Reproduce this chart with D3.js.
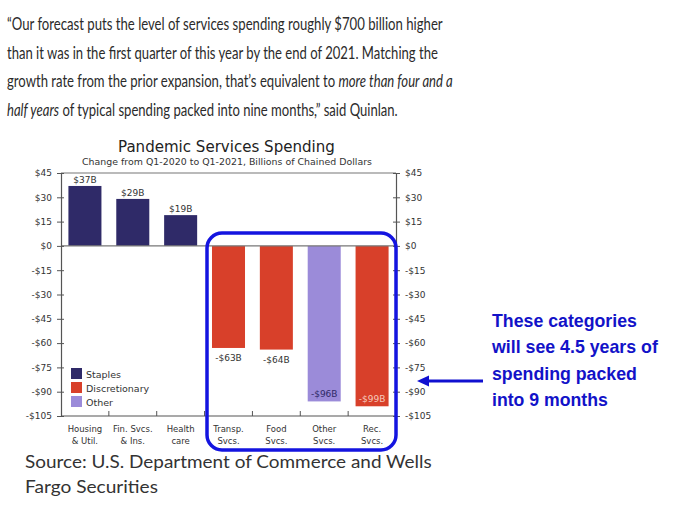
<!DOCTYPE html>
<html>
<head>
<meta charset="utf-8">
<script src="https://cdn.jsdelivr.net/npm/d3@7"></script>
<style>
  body { margin: 0; background: #fff; }
  svg { display: block; }
</style>
</head>
<body>
<svg id="chart" width="678" height="509"></svg>
<script>
// data
const categories = ["Housing & Util.", "Fin. Svcs. & Ins.", "Health care", "Transp. Svcs.", "Food Svcs.", "Other Svcs.", "Rec. Svcs."];
const catLines = [["Housing", "& Util."], ["Fin. Svcs.", "& Ins."], ["Health", "care"], ["Transp.", "Svcs."], ["Food", "Svcs."], ["Other", "Svcs."], ["Rec.", "Svcs."]];
const values = [37, 29, 19, -63, -64, -96, -99];
const groups = ["Staples", "Staples", "Staples", "Discretionary", "Discretionary", "Other", "Discretionary"];
const valueLabels = ["$37B", "$29B", "$19B", "-$63B", "-$64B", "-$96B", "-$99B"];
const legendItems = ["Staples", "Discretionary", "Other"];
const yTicks = [45, 30, 15, 0, -15, -30, -45, -60, -75, -90, -105];

const paragraph = [
    [{ t: "\u201cOur forecast puts the level of services spending roughly $700 billion higher" }],
    [{ t: "than it was in the first quarter of this year by the end of 2021. Matching the" }],
    [{ t: "growth rate from the prior expansion, that\u2019s equivalent to " }, { t: "more than four and a", i: true }],
    [{ t: "half years", i: true }, { t: " of typical spending packed into nine months,\u201d said Quinlan." }]
];
const sourceLines = ["Source: U.S. Department of Commerce and Wells", "Fargo Securities"];
const noteLines = ["These categories", "will see 4.5 years of", "spending packed", "into 9 months"];

const colors = { Staples: "#2f2a68", Discretionary: "#d8402a", Other: "#9b8bd9" };

const svg = d3.select("#chart");

// stretch/squeeze a text so it ends at the wanted width
const fit = (sel, x, y, w) => {
    const len = sel.node().getComputedTextLength();
    sel.attr("transform", `translate(${x},${y}) scale(${w / len},1)`);
};

// quoted paragraph at the top
const paraWidths = [436, 431, 446, 391];
paragraph.forEach((parts, i) => {
    const t = svg.append("text")
        .attr("font-family", "Lato, sans-serif")
        .attr("font-size", 17)
        .attr("fill", "#2b2b2b");
    parts.forEach(p => t.append("tspan").attr("font-style", p.i ? "italic" : "normal").text(p.t));
    fit(t, 7, 30 + i * 28.5, paraWidths[i]);
});

// chart area
const x = d3.scaleBand()
    .domain(categories)
    .range([61, 396])
    .paddingInner(0.31)
    .paddingOuter(0.155);

const y = d3.scaleLinear()
    .domain([-105, 45])
    .range([416, 173]);

const fmt = d => d < 0 ? "-$" + (-d) : "$" + d;

// title + subtitle
const title = svg.append("text")
    .attr("font-family", "DejaVu Sans, Verdana, sans-serif")
    .attr("font-size", 15)
    .attr("fill", "#222")
    .text("Pandemic Services Spending");
fit(title, 118, 152, 217);

const sub = svg.append("text")
    .attr("font-family", "DejaVu Sans, Verdana, sans-serif")
    .attr("font-size", 8.5)
    .attr("fill", "#333")
    .text("Change from Q1-2020 to Q1-2021, Billions of Chained Dollars");
fit(sub, 82, 165, 290);

// frame: top border + zero line
svg.append("line")
    .attr("x1", 61).attr("x2", 396)
    .attr("y1", y(45)).attr("y2", y(45))
    .attr("stroke", "#777").attr("stroke-width", 1.2);

// bars
svg.append("g").selectAll("rect")
    .data(values)
    .join("rect")
    .attr("x", (d, i) => x(categories[i]))
    .attr("width", x.bandwidth())
    .attr("y", d => y(Math.max(0, d)))
    .attr("height", d => Math.abs(y(d) - y(0)))
    .attr("fill", (d, i) => colors[groups[i]]);

svg.append("line")
    .attr("x1", 61).attr("x2", 396)
    .attr("y1", y(0)).attr("y2", y(0))
    .attr("stroke", "#777").attr("stroke-width", 1.2);

// value labels
svg.append("g").selectAll("text")
    .data(values)
    .join("text")
    .attr("font-family", "DejaVu Sans, Verdana, sans-serif")
    .attr("font-size", 9)
    .attr("text-anchor", "middle")
    .attr("x", (d, i) => x(categories[i]) + x.bandwidth() / 2)
    .attr("y", d => d > 0 ? y(d) - 3 : (d < -90 ? y(d) - 4 : y(d) + 13))
    .attr("fill", (d, i) => d < -90 ? (groups[i] === "Other" ? "#2f2a68" : "#f6c9bb") : "#333")
    .text((d, i) => valueLabels[i]);

// y axes (ticks cross the axis line)
const yAxisL = d3.axisLeft(y).tickValues(yTicks).tickFormat(fmt).tickSizeInner(4).tickSizeOuter(0);
const yAxisR = d3.axisRight(y).tickValues(yTicks).tickFormat(fmt).tickSizeInner(4).tickSizeOuter(0);

const styleAxis = (g, dir) => {
    g.select(".domain").attr("stroke", "#555").attr("stroke-width", 1.2);
    g.selectAll(".tick line").attr("stroke", "#555").attr("x2", dir * 4).attr("x1", -dir * 3);
    g.selectAll(".tick text")
        .attr("font-family", "DejaVu Sans, Verdana, sans-serif")
        .attr("font-size", 9)
        .attr("fill", "#333")
        .attr("x", dir * 9);
};

svg.append("g").attr("transform", "translate(61,0)").call(yAxisL).call(g => styleAxis(g, -1));
svg.append("g").attr("transform", "translate(396,0)").call(yAxisR).call(g => styleAxis(g, 1));

// bottom axis with ticks between categories
svg.append("line")
    .attr("x1", 61).attr("x2", 396)
    .attr("y1", y(-105)).attr("y2", y(-105))
    .attr("stroke", "#555").attr("stroke-width", 1.2);

svg.append("g").selectAll("line")
    .data(categories.slice(1))
    .join("line")
    .attr("x1", d => x(d) - x.step() * x.paddingInner() / 2)
    .attr("x2", d => x(d) - x.step() * x.paddingInner() / 2)
    .attr("y1", y(-105)).attr("y2", y(-105) - 5)
    .attr("stroke", "#555");

const catText = svg.append("g").selectAll("text")
    .data(categories)
    .join("text")
    .attr("font-family", "DejaVu Sans, Verdana, sans-serif")
    .attr("font-size", 8.5)
    .attr("fill", "#333")
    .attr("text-anchor", "middle")
    .attr("x", d => x(d) + x.bandwidth() / 2)
    .attr("y", 432);
catText.each(function (d, i) {
    const t = d3.select(this);
    catLines[i].forEach((ln, j) => {
        t.append("tspan")
            .attr("x", x(d) + x.bandwidth() / 2)
            .attr("dy", j === 0 ? 0 : 12)
            .text(ln);
    });
});

// legend
const legend = svg.append("g").attr("transform", "translate(71,368)");
legendItems.forEach((k, i) => {
    legend.append("rect")
        .attr("x", 0).attr("y", i * 14)
        .attr("width", 11).attr("height", 11)
        .attr("fill", colors[k]);
    legend.append("text")
        .attr("x", 15).attr("y", i * 14 + 9.5)
        .attr("font-family", "DejaVu Sans, Verdana, sans-serif")
        .attr("font-size", 9.5)
        .attr("fill", "#333")
        .text(k);
});

// blue highlight box
svg.append("rect")
    .attr("x", 207).attr("y", 233)
    .attr("width", 189).attr("height", 217)
    .attr("rx", 15).attr("ry", 15)
    .attr("fill", "none")
    .attr("stroke", "#1414e0")
    .attr("stroke-width", 3.5);

// source
const srcWidths = [407, 133];
sourceLines.forEach((s, i) => {
    const t = svg.append("text")
        .attr("font-family", "Lato, sans-serif")
        .attr("font-size", 18)
        .attr("fill", "#333")
        .text(s);
    fit(t, 25, 468 + i * 25, srcWidths[i]);
});

// annotation + arrow
const noteWidths = [145, 166, 145, 116];
noteLines.forEach((s, i) => {
    const t = svg.append("text")
        .attr("font-family", "Liberation Sans, Arial, sans-serif")
        .attr("font-weight", "bold")
        .attr("font-size", 19)
        .attr("fill", "#1212c8")
        .text(s);
    fit(t, 492, 327 + i * 26.3, noteWidths[i]);
});

svg.append("line")
    .attr("x1", 483).attr("x2", 426)
    .attr("y1", 381).attr("y2", 381)
    .attr("stroke", "#1010d0").attr("stroke-width", 3);
svg.append("path")
    .attr("d", "M417,381 L429,375.5 L429,386.5 Z")
    .attr("fill", "#1010d0");
</script>
</body>
</html>
